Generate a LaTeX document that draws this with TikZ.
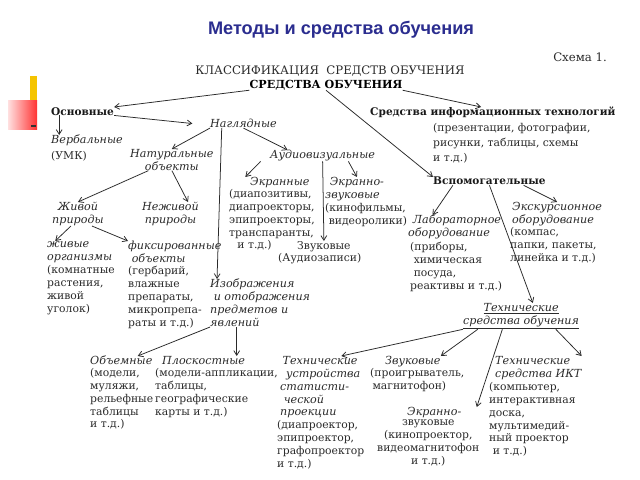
\documentclass[tikz,border=0pt]{standalone}
\usepackage{fontspec}
\setmainfont{DejaVu Serif}
\newfontfamily\headfont{Liberation Sans}
\usetikzlibrary{arrows.meta,shadings}

\definecolor{titleblue}{HTML}{2B2D8F}
\definecolor{scangray}{HTML}{2A2A2A}
\definecolor{barYellow}{HTML}{F5C400}

\begin{document}
\begin{tikzpicture}[
    x=0.03cm, y=-0.03cm,
    % Define Styles
    heading/.style={
        font=\headfont\bfseries\fontsize{15.5}{18}\selectfont,
        text=titleblue,
        inner sep=0pt
    },
    classline/.style={
        font=\fontsize{10}{11}\selectfont,
        text=scangray,
        inner sep=0pt
    },
    rootlabel/.style={
        font=\bfseries\fontsize{9.5}{11}\selectfont,
        text=black,
        inner sep=0pt
    },
    mainlabel/.style={
        font=\bfseries\fontsize{9}{11}\selectfont,
        text=black!90,
        anchor=north west,
        inner sep=0pt
    },
    kindlabel/.style={
        font=\itshape\fontsize{9.5}{11}\selectfont,
        text=scangray,
        anchor=north west,
        align=left,
        inner sep=0pt
    },
    notelabel/.style={
        font=\fontsize{9.2}{11}\selectfont,
        text=scangray,
        anchor=north west,
        align=left,
        inner sep=0pt
    },
    link/.style={
        draw=scangray,
        line width=0.65pt,
        -{Straight Barb[length=4pt,width=5pt]}
    }
    ]

    \useasboundingbox (0,0) rectangle (640,480);
    \fill[white] (0,0) rectangle (640,480);

    % Left Mark
    \fill[barYellow] (30,76) rectangle (37,102);
    \shade[left color=red!12, right color=red!80] (8,101) rectangle (37,130);
    \fill[black!80] (31,125) rectangle (36,127);

    % Heading Nodes
    \node[heading] (title) at (341,30) {Методы и средства обучения};
    \node[classline] (scheme) at (580,57) {Схема 1.};
    \node[classline] (klass) at (330,71) {КЛАССИФИКАЦИЯ\ \ СРЕДСТВ ОБУЧЕНИЯ};
    \node[rootlabel] (root) at (326,85) {СРЕДСТВА ОБУЧЕНИЯ};

    % Left Branch
    \node[mainlabel] (osn) at (51,107) {Основные};
    \node[kindlabel] (verb) at (51,135) {Вербальные};
    \node[notelabel] (verbb) at (51,151) {(УМК)};
    \node[kindlabel] (nagl) at (210,119) {Наглядные};
    \node[kindlabel, align=center] (natur) at (130,149) {Натуральные\\объекты};
    \node[kindlabel] (audio) at (270,150) {Аудиовизуальные};

    % Natural Objects
    \node[kindlabel, align=center] (zhiv) at (52,202) {Живой\\природы};
    \node[kindlabel, align=center] (nezh) at (142,202) {Неживой\\природы};
    \node[kindlabel] (zhivye) at (47,241) {живые\\организмы};
    \node[notelabel] (zhivyeb) at (47,265) {(комнатные\\растения,\\живой\\уголок)};
    \node[kindlabel] (fiks) at (128,241) {фиксированные\\\hspace{3pt}объекты};
    \node[notelabel] (fiksb) at (128,266) {(гербарий,\\влажные\\препараты,\\микропрепа-\\раты и т.д.)};

    % Audiovisual
    \node[kindlabel] (ekr) at (250,177) {Экранные};
    \node[notelabel] (ekrb) at (229,189) {(диапозитивы,\\диапроекторы,\\эпипроекторы,\\транспаранты,\\\hspace{7pt}и т.д.)};
    \node[kindlabel] (ekrzv) at (325,177) {\hspace{4pt}Экранно-\\звуковые};
    \node[notelabel] (ekrzvb) at (325,203) {(кинофильмы,\\\hspace{3pt}видеоролики)};
    \node[notelabel] (zvuk) at (297,241) {Звуковые};
    \node[notelabel] (zvukb) at (278,253) {(Аудиозаписи)};

    % Images
    \node[kindlabel] (izobr) at (210,279) {Изображения\\\hspace{3pt}и отображения\\предметов и\\явлений};
    \node[kindlabel] (obem) at (90,356) {Объемные};
    \node[notelabel] (obemb) at (90,368) {(модели,\\муляжи,\\рельефные\\таблицы\\и т.д.)};
    \node[kindlabel] (plosk) at (162,356) {Плоскостные};
    \node[notelabel] (ploskb) at (155,368) {(модели-аппликации,\\таблицы,\\географические\\карты и т.д.)};

    % Right Branch
    \node[mainlabel] (info) at (370,107) {Средства информационных технологий};
    \node[notelabel, font=\fontsize{9.2}{12.8}\selectfont] (infob) at (433,123) {(презентации, фотографии,\\рисунки, таблицы, схемы\\и т.д.)};
    \node[mainlabel] (vspom) at (433,177) {Вспомогательные};
    \node[kindlabel] (lab) at (408,215) {\hspace{4pt}Лабораторное\\оборудование};
    \node[notelabel] (labb) at (410,242) {(приборы,\\\hspace{3pt}химическая\\\hspace{3pt}посуда,\\реактивы и т.д.)};
    \node[kindlabel] (eksk) at (512,202) {Экскурсионное\\оборудование};
    \node[notelabel] (ekskb) at (510,227) {(компас,\\папки, пакеты,\\линейка и т.д.)};

    % Technical Means
    \node[kindlabel, align=center] (tso) at (463,303) {\underline{Технические}\\\underline{средства обучения}};
    \node[kindlabel] (tech1) at (280,356) {\hspace{2pt}Технические\\\hspace{5pt}устройства\\статисти-\\\hspace{3pt}ческой\\проекции};
    \node[notelabel] (tech1b) at (277,420) {(диапроектор,\\эпипроектор,\\графопроектор\\и т.д.)};
    \node[kindlabel] (zvuk2) at (385,356) {Звуковые};
    \node[notelabel] (zvuk2b) at (370,368) {(проигрыватель,\\\hspace{2pt}магнитофон)};
    \node[kindlabel] (ekrzv2) at (407,407) {Экранно-};
    \node[notelabel, align=center] (ekrzv2b) at (377,420) {звуковые\\(кинопроектор,\\видеомагнитофон\\и т.д.)};
    \node[kindlabel] (ikt) at (495,356) {Технические\\средства ИКТ};
    \node[notelabel] (iktb) at (489,382) {(компьютер,\\интерактивная\\доска,\\мультимедий-\\ный проектор\\\hspace{3pt}и т.д.)};

    % Draw Edges

    % Edges from the root
    \draw[link] (root.south west) -- (osn.north east);
    \draw[link] (root.south east) -- ([xshift=-10pt]info.north);
    \draw[link] (root.south) -- (vspom.north west);

    % Edges from Основные and Наглядные
    \draw[link] ([xshift=7pt]osn.south west) -- ([xshift=7pt]verb.north west);
    \draw[link] (osn.south east) -- ([xshift=-15pt]nagl.west);
    \draw[link] (nagl.south west) -- (natur.north);
    \draw[link] (nagl.south) -- ([xshift=15pt]audio.north west);
    \draw[link] ([xshift=10pt]nagl.south west) -- ([xshift=6pt]izobr.north west);

    % Edges from Аудиовизуальные
    \draw[link] ([xshift=-8pt]audio.south west) -- ([xshift=-4pt]ekr.north west);
    \draw[link] ([xshift=22pt]audio.south) -- ([xshift=2pt]ekrzv.north);
    \draw[link] (audio.south) -- (zvuk.north);

    % Edges of natural objects
    \draw[link] ([xshift=-20pt]natur.south) -- (zhiv.north);
    \draw[link] (natur.south) -- ([xshift=15pt]nezh.north);
    \draw[link] ([xshift=-6pt]zhiv.south) -- ([xshift=7pt]zhivye.north west);
    \draw[link] ([xshift=12pt]zhiv.south) -- (fiks.north west);

    % Edges from Изображения
    \draw[link] (izobr.south west) -- ([xshift=14pt]obem.north);
    \draw[link] ([xshift=-20pt]izobr.south) -- ([xshift=-20pt]izobr.south |- plosk.north);

    % Edges from Вспомогательные
    \draw[link] ([xshift=17pt]vspom.south west) -- ([xshift=21pt]lab.north west);
    \draw[link] ([xshift=-19pt]vspom.south east) -- (eksk.north);
    \draw[link] (vspom.south) -- ([xshift=10pt]tso.north);

    % Edges from Технические средства обучения
    \draw[link] (tso.south west) -- ([xshift=18pt]tech1.north);
    \draw[link] ([xshift=-37pt]tso.south) -- (zvuk2.north east);
    \draw[link] ([xshift=-16pt]tso.south) -- ([xshift=13pt]ekrzv2.north east);
    \draw[link] ([xshift=-20pt]tso.south east) -- (ikt.north east);

\end{tikzpicture}
\end{document}
